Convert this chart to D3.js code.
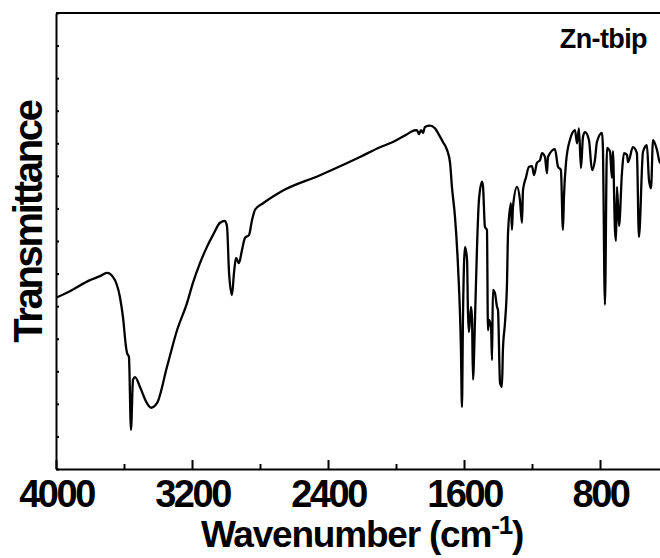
<!DOCTYPE html>
<html lang="en">
  <head>
    <title>Zn-tbip IR</title>
    <script src="https://d3js.org/d3.v7.min.js"></script>
    <style>
      body {
        margin: 0;
        background: white;
      }
      text {
        font-family: "Liberation Sans", Arial, sans-serif;
        font-weight: bold;
        fill: black;
      }
      .domain,
      .tick line {
        stroke: black;
        stroke-width: 2;
      }
      #spectrum {
        fill: none;
        stroke: black;
        stroke-width: 2.3;
        stroke-linejoin: round;
      }
    </style>
  </head>
  <body>
    <div id="chart"></div>
    <script>
      let width = 660;
      let height = 558;
      let margin = { left: 56, right: 668, top: 13, bottom: 469 };

      // Spectrum (wavenumber, transmittance a.u.)
      let wavenumber = [
        4000, 3918, 3800, 3741, 3700, 3665, 3624, 3606, 3588, 3582, 3571, 3559,
        3547, 3535, 3506, 3465, 3441, 3406, 3347, 3288, 3229, 3194, 3153, 3112,
        3077, 3035, 3006, 2994, 2982, 2965, 2953, 2941, 2924, 2906, 2888, 2865,
        2847, 2829, 2782, 2682, 2447, 2212, 2094, 2018, 1935, 1888, 1877, 1865,
        1853, 1841, 1830, 1800, 1771, 1747, 1724, 1700, 1682, 1671, 1653, 1635,
        1618, 1612, 1606, 1594, 1582, 1577, 1571, 1559, 1553, 1547, 1535, 1524,
        1512, 1494, 1488, 1477, 1465, 1459, 1453, 1441, 1435, 1430, 1418, 1406,
        1400, 1388, 1377, 1371, 1359, 1347, 1341, 1324, 1318, 1312, 1288, 1271,
        1259, 1253, 1235, 1218, 1200, 1188, 1171, 1153, 1141, 1124, 1112, 1106,
        1065, 1047, 1030, 1018, 1012, 1000, 977, 947, 935, 924, 912, 900, 888,
        865, 847, 830, 818, 788, 783, 771, 759, 741, 730, 724, 712, 706, 700,
        688, 671, 659, 641, 635, 606, 583, 571, 547, 524, 512, 500, 488, 465,
        447, 400,
      ];
      let transmittance = [
        26.3, 27.3, 29.0, 29.6, 30.1, 29.5, 26.4, 23.3, 18.7, 17.8, 17.2, 6.0,
        13.7, 14.1, 12.6, 10.1, 9.4, 10.1, 15.7, 21.3, 25.5, 28.6, 31.6, 34.1,
        35.9, 37.8, 38.1, 37.2, 30.1, 26.7, 30.1, 32.4, 31.6, 33.6, 35.5, 35.9,
        38.2, 39.8, 40.8, 42.5, 45.1, 47.9, 49.4, 50.2, 51.4, 52.0, 52.0, 51.4,
        52.0, 51.6, 52.5, 52.7, 52.3, 51.3, 50.2, 49.0, 47.0, 43.3, 38.7, 31.0,
        18.3, 9.5, 23.3, 34.1, 32.1, 24.4, 21.0, 24.9, 23.3, 13.7, 23.3, 33.6,
        41.3, 44.1, 43.3, 37.2, 36.7, 21.3, 22.9, 21.8, 16.7, 27.5, 27.0, 24.9,
        24.4, 13.2, 12.6, 18.3, 22.4, 28.6, 36.2, 40.8, 36.7, 40.2, 43.3, 41.3,
        37.8, 42.8, 44.8, 46.4, 46.5, 45.1, 47.0, 47.4, 48.5, 47.9, 45.4, 47.9,
        49.1, 46.4, 45.9, 36.7, 41.8, 47.0, 50.5, 52.0, 50.0, 52.3, 46.2, 51.0,
        51.7, 50.5, 45.9, 47.4, 50.2, 51.6, 49.4, 25.2, 49.3, 48.7, 44.7, 48.8,
        36.7, 35.0, 43.3, 37.3, 45.4, 48.5, 48.2, 47.1, 49.4, 48.5, 35.6, 48.7,
        49.7, 44.4, 43.1, 50.5, 49.0, 47.0, 46.7,
      ];
      let majorTicks = [4000, 3200, 2400, 1600, 800];
      let minorTicks = [3600, 2800, 2000, 1200, 400];
      let yTicks = d3.range(0, 71, 5);

      let svg = d3
        .select("#chart")
        .append("svg")
        .attr("width", width)
        .attr("height", height);

      let x = d3.scaleLinear().domain([4000, 400]).range([margin.left, margin.right]);
      let y = d3.scaleLinear().domain([0, 70]).range([margin.bottom, margin.top]);

      svg
        .append("clipPath")
        .attr("id", "plotClip")
        .append("rect")
        .attr("x", margin.left)
        .attr("y", margin.top)
        .attr("width", margin.right - margin.left)
        .attr("height", margin.bottom - margin.top);

      // The spectrum
      let points = wavenumber.map(function (w, i) {
        return [w, transmittance[i]];
      });
      let line = d3
        .line()
        .x(function (d) {
          return x(d[0]);
        })
        .y(function (d) {
          return y(d[1]);
        })
        .curve(d3.curveMonotoneX);
      svg
        .append("path")
        .attr("id", "spectrum")
        .attr("clip-path", "url(#plotClip)")
        .attr("d", line(points));

      // Frame: top and right border
      svg
        .append("path")
        .attr("fill", "none")
        .attr("stroke", "black")
        .attr("stroke-width", 2)
        .attr(
          "d",
          "M" + margin.left + "," + margin.top + "H" + margin.right + "V" + margin.bottom
        );

      // Bottom axis, ticks pointing inward
      let xAxis = svg
        .append("g")
        .attr("transform", "translate(0," + margin.bottom + ")")
        .call(
          d3
            .axisBottom(x)
            .tickValues(majorTicks)
            .tickFormat(d3.format("d"))
            .tickSize(-9)
            .tickSizeOuter(0)
            .tickPadding(11)
        );
      xAxis
        .selectAll("text")
        .style("font-size", "38px")
        .style("letter-spacing", "-2.5px");

      svg
        .append("g")
        .attr("transform", "translate(0," + margin.bottom + ")")
        .call(d3.axisBottom(x).tickValues(minorTicks).tickSize(-5).tickSizeOuter(0).tickFormat(""))
        .select(".domain")
        .remove();

      // Left axis, small inward ticks and no labels
      svg
        .append("g")
        .attr("transform", "translate(" + margin.left + ",0)")
        .call(d3.axisLeft(y).tickValues(yTicks).tickSize(-3).tickSizeOuter(0).tickFormat(""));

      // Axis titles
      svg
        .append("text")
        .attr("transform", "translate(42,222) rotate(-90)")
        .attr("text-anchor", "middle")
        .style("font-size", "40px")
        .style("letter-spacing", "-2.3px")
        .text("Transmittance");

      let xTitle = svg
        .append("text")
        .attr("x", 362)
        .attr("y", 547)
        .attr("text-anchor", "middle")
        .style("font-size", "37px")
        .style("letter-spacing", "-1.2px");
      xTitle.append("tspan").text("Wavenumber (cm");
      xTitle.append("tspan").attr("dy", -13).style("font-size", "26px").text("-1");
      xTitle.append("tspan").attr("dy", 13).text(")");

      svg
        .append("text")
        .attr("x", 647)
        .attr("y", 48)
        .attr("text-anchor", "end")
        .style("font-size", "27px")
        .style("letter-spacing", "-0.6px")
        .text("Zn-tbip");
    </script>
  </body>
</html>
